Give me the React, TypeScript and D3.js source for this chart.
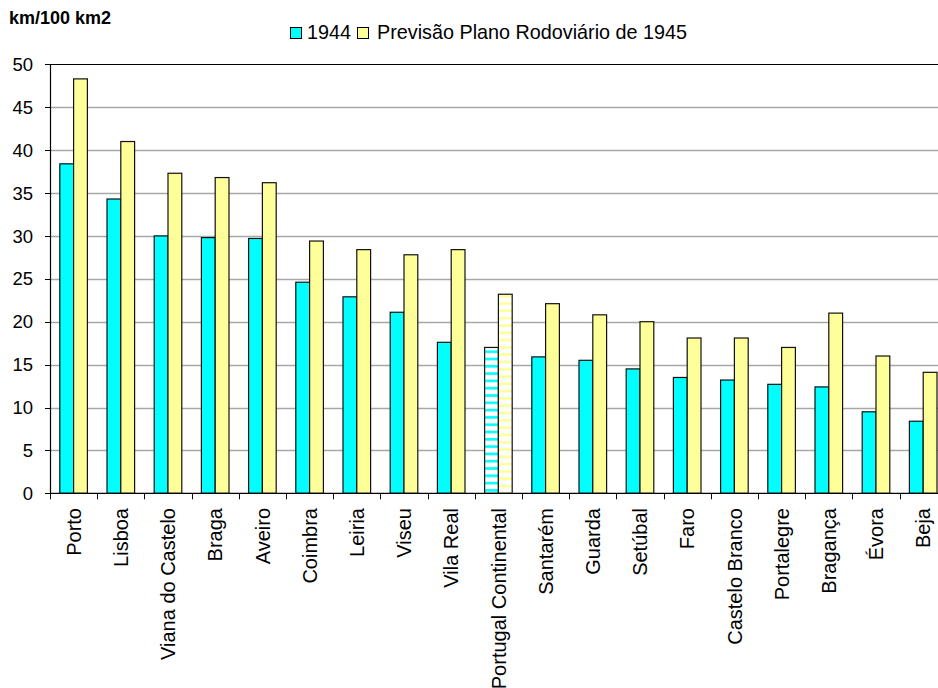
import React from "react";
import * as d3 from "d3";

const categories = [
  "Porto", "Lisboa", "Viana do Castelo", "Braga", "Aveiro", "Coimbra", "Leiria", "Viseu",
  "Vila Real", "Portugal Continental", "Santarém", "Guarda", "Setúbal", "Faro",
  "Castelo Branco", "Portalegre", "Bragança", "Évora", "Beja",
];
const seriesNames = ["1944", "Previsão Plano Rodoviário de 1945"];
const values1944 = [38.4, 34.3, 30.0, 29.8, 29.7, 24.6, 22.9, 21.1, 17.6, 17.0, 15.9, 15.5, 14.5, 13.5, 13.2, 12.7, 12.4, 9.5, 8.4];
const values1945 = [48.3, 41.0, 37.3, 36.8, 36.2, 29.4, 28.4, 27.8, 28.4, 23.2, 22.1, 20.8, 20.0, 18.1, 18.1, 17.0, 21.0, 16.0, 14.1];
const yTicks = [0, 5, 10, 15, 20, 25, 30, 35, 40, 45, 50];
const highlighted = "Portugal Continental";
const yTitle = "km/100 km2";

const W = 938;
const H = 688;
const left = 50;
const step = 47.2;
const top = 64.3;
const bottom = 493.3;
const font = "'Liberation Sans', Arial, sans-serif";
const colors = ["#00FFFF", "#FFFF99"];

export default function App() {
  const x = d3.scaleBand<string>().domain(categories).range([left, left + step * categories.length]).padding(0);
  const xs = d3.scaleBand<string>().domain(seriesNames).range([0, x.bandwidth()]).paddingInner(0).paddingOuter(0.71);
  const y = d3.scaleLinear().domain([0, 50]).range([bottom, top]);
  const series = [values1944, values1945];

  return (
    <svg width={W} height={H} style={{ position: "absolute", left: 0, top: 0, background: "#fff" }}>
      <defs>
        <pattern id="hatch0" patternUnits="userSpaceOnUse" width="6" height="7.3">
          <rect width="6" height="7.3" fill="#fff" />
          <rect y="0" width="6" height="2.6" fill="#00FFFF" />
        </pattern>
        <pattern id="hatch1" patternUnits="userSpaceOnUse" width="6" height="7.3">
          <rect width="6" height="7.3" fill="#fff" />
          <rect y="3" width="6" height="2.6" fill="#FFFF99" />
        </pattern>
      </defs>
      <rect width={W} height={H} fill="#fff" />
      {/* gridlines */}
      {yTicks.filter((t) => t > 0 && t < 50).map((t) => (
        <line key={t} x1={left} x2={W} y1={Math.round(y(t)) + 0.5} y2={Math.round(y(t)) + 0.5} stroke="#a8a8a8" strokeWidth={1.3} />
      ))}
      <line x1={left} x2={W} y1={Math.round(y(50)) + 0.5} y2={Math.round(y(50)) + 0.5} stroke="#000" strokeWidth={1} />
      {/* bars */}
      {categories.map((c, i) =>
        series.map((vals, s) => {
          const x0 = (x(c) as number) + (xs(seriesNames[s]) as number);
          const fill = c === highlighted ? `url(#hatch${s})` : colors[s];
          return (
            <rect key={c + s} x={x0} y={y(vals[i])} width={xs.bandwidth()} height={bottom - y(vals[i])}
              fill={fill} stroke="#111" strokeWidth={1.2} />
          );
        })
      )}
      {/* axes */}
      <line x1={left + 0.5} x2={left + 0.5} y1={y(50)} y2={bottom} stroke="#000" strokeWidth={1.2} />
      <line x1={left} x2={W} y1={bottom} y2={bottom} stroke="#000" strokeWidth={1.2} />
      {yTicks.map((t) => (
        <g key={t}>
          <line x1={left - 5} x2={left} y1={Math.round(y(t)) + 0.5} y2={Math.round(y(t)) + 0.5} stroke="#000" />
          <text x={33} y={y(t)} dy="0.36em" textAnchor="end" fontFamily={font} fontSize={18.5} fill="#000">{t}</text>
        </g>
      ))}
      {categories.map((c) => (
        <line key={"t" + c} x1={Math.round(x(c) as number) + 0.5} x2={Math.round(x(c) as number) + 0.5} y1={bottom} y2={bottom + 6} stroke="#000" />
      ))}
      {categories.map((c) => {
        const cx = (x(c) as number) + x.bandwidth() / 2;
        return (
          <text key={"l" + c} transform={`translate(${cx},${508}) rotate(-90)`} textAnchor="end" dy="0.36em"
            fontFamily={font} fontSize={20} fill="#000">{c}</text>
        );
      })}
      {/* title */}
      <text x={9} y={24} fontFamily={font} fontSize={18} fontWeight="bold" fill="#000">{yTitle}</text>
      {/* legend */}
      <g fontFamily={font} fontSize={19.8} fill="#000">
        <rect x={290.5} y={27.5} width={11} height={11} fill={colors[0]} stroke="#000" />
        <text x={307} y={38.7}>{seriesNames[0]}</text>
        <rect x={357.5} y={27.5} width={11} height={11} fill={colors[1]} stroke="#000" />
        <text x={377} y={38.7}>{seriesNames[1]}</text>
      </g>
    </svg>
  );
}
